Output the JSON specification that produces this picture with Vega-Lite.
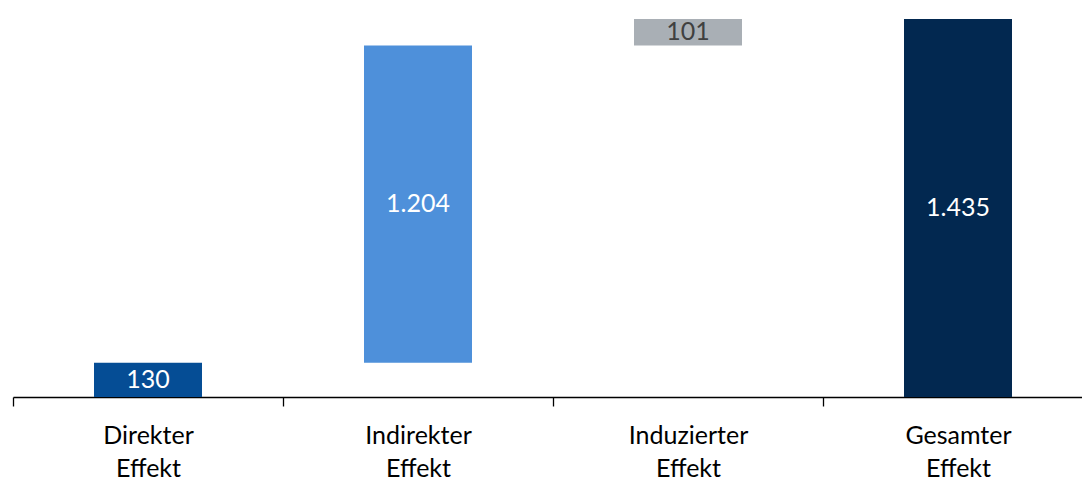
{
  "$schema": "https://vega.github.io/schema/vega-lite/v6.json",
  "autosize": "none",
  "width": 1080,
  "height": 378,
  "padding": {"left": 13, "top": 19, "right": 0, "bottom": 83},
  "background": "white",
  "config": {"view": {"stroke": null}, "font": "Lato"},
  "data": {"values": [
    {"category": "Direkter Effekt", "start": 0, "end": 130, "label": "130", "type": "direct"},
    {"category": "Indirekter Effekt", "start": 130, "end": 1334, "label": "1.204", "type": "indirect"},
    {"category": "Induzierter Effekt", "start": 1334, "end": 1435, "label": "101", "type": "induced"},
    {"category": "Gesamter Effekt", "start": 0, "end": 1435, "label": "1.435", "type": "total"}
  ]},
  "encoding": {
    "x": {"field": "category", "type": "nominal", "sort": null,
      "scale": {"paddingInner": 0, "paddingOuter": 0},
      "axis": {"title": null, "labelAngle": 0, "labelExpr": "split(datum.label, ' ')",
        "labelFontSize": 25, "labelColor": "#000000", "labelLineHeight": 33, "labelPadding": 17,
        "labelFont": "Lato", "tickBand": "extent", "tickSize": 9, "tickColor": "#000000",
        "domainColor": "#000000", "domainWidth": 1.3, "tickWidth": 1.3}}
  },
  "layer": [
    {
      "mark": {"type": "bar", "width": {"band": 0.4}},
      "encoding": {
        "y": {"field": "start", "type": "quantitative", "scale": {"domain": [0, 1435], "nice": false, "zero": true}, "axis": null},
        "y2": {"field": "end"},
        "color": {"field": "type", "type": "nominal", "legend": null,
          "scale": {"domain": ["direct", "indirect", "induced", "total"], "range": ["#054D95", "#4E90DA", "#A9AFB5", "#022850"]}}
      }
    },
    {
      "transform": [{"calculate": "(datum.start + datum.end) / 2", "as": "mid"}],
      "mark": {"type": "text", "fontSize": 25, "baseline": "middle", "font": "Lato"},
      "encoding": {
        "y": {"field": "mid", "type": "quantitative"},
        "text": {"field": "label"},
        "color": {"field": "type", "type": "nominal", "legend": null,
          "scale": {"domain": ["direct", "indirect", "induced", "total"], "range": ["#FFFFFF", "#FFFFFF", "#404040", "#FFFFFF"]}}
      }
    }
  ],
  "resolve": {"scale": {"color": "independent"}}
}
